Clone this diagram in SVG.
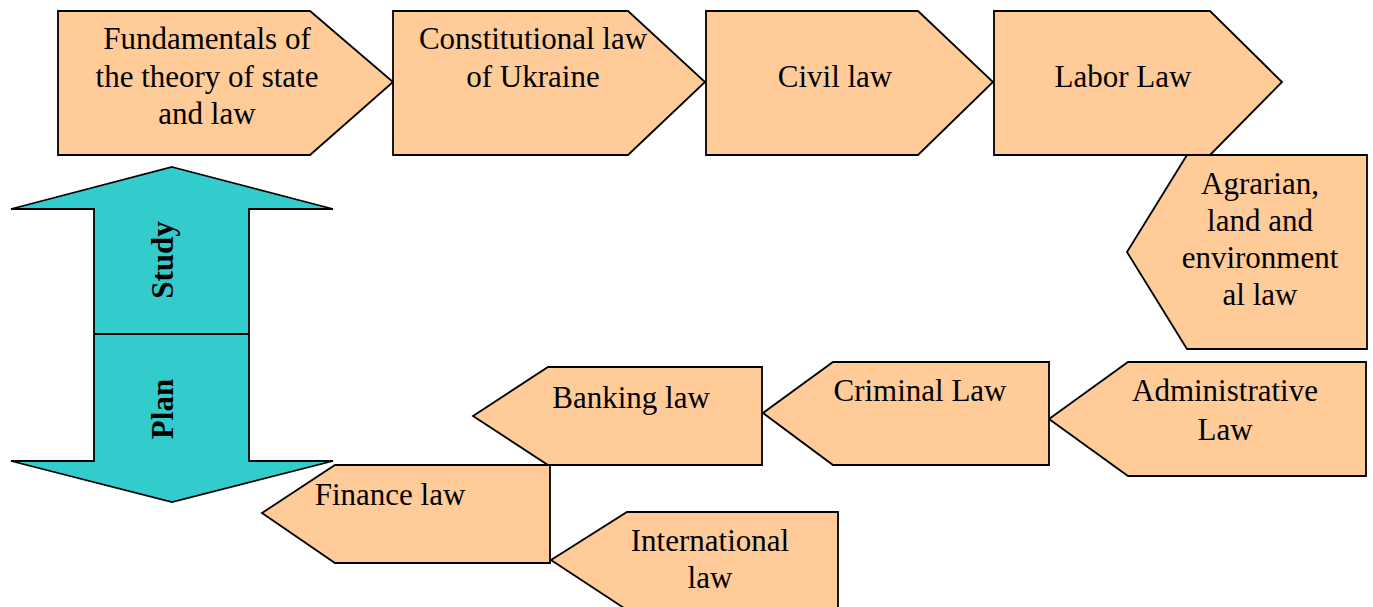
<svg xmlns="http://www.w3.org/2000/svg" width="1373" height="607" viewBox="0 0 1373 607">
<style>
.n{fill:#FFCC99;stroke:#000;stroke-width:1.8;stroke-linejoin:miter}
.a{fill:#33CCCC;stroke:#000;stroke-width:1.8}
.t{font-family:"Liberation Serif","Times New Roman",serif;font-size:31px;fill:#000;text-anchor:middle}
.b{font-weight:bold}
</style>
<rect width="1373" height="607" fill="#fff"/>
<g id="studyplan">
<polygon class="a" points="172,167 333,209 249,209 249,461 333,461 172,502 11,461 94,461 94,209 11,209"/>
<line x1="94" y1="334" x2="249" y2="334" stroke="#000" stroke-width="1.8"/>
<text class="t b" transform="translate(173,260) rotate(-90)">Study</text>
<text class="t b" transform="translate(173,409) rotate(-90)">Plan</text>
</g>
<g id="connectors"></g>
<g id="n1">
<polygon class="n" points="58,11 310,11 393,82 310,155 58,155"/>
<text class="t" x="207" y="49">Fundamentals of</text>
<text class="t" x="207" y="87">the theory of state</text>
<text class="t" x="207" y="124">and law</text>
</g>
<g id="n2">
<polygon class="n" points="393,11 628,11 705,82 628,155 393,155"/>
<text class="t" x="533" y="49">Constitutional law</text>
<text class="t" x="533" y="87">of Ukraine</text>
</g>
<g id="n3">
<polygon class="n" points="706,11 918,11 993,82 918,155 706,155"/>
<text class="t" x="835" y="87">Civil law</text>
</g>
<g id="n4">
<polygon class="n" points="994,11 1210,11 1282,82 1210,155 994,155"/>
<text class="t" x="1123" y="87">Labor Law</text>
</g>
<g id="n5">
<polygon class="n" points="1187,155 1367,155 1367,349 1187,349 1127,252"/>
<text class="t" x="1260" y="194">Agrarian,</text>
<text class="t" x="1260" y="231">land and</text>
<text class="t" x="1260" y="268">environment</text>
<text class="t" x="1260" y="305">al law</text>
</g>
<g id="n6">
<polygon class="n" points="1128,362 1366,362 1366,476 1128,476 1049,419"/>
<text class="t" x="1225" y="401">Administrative</text>
<text class="t" x="1225" y="440">Law</text>
</g>
<g id="n7">
<polygon class="n" points="833,362 1049,362 1049,465 833,465 763,413"/>
<text class="t" x="920" y="401">Criminal Law</text>
</g>
<g id="n8">
<polygon class="n" points="548,367 762,367 762,465 548,465 473,416"/>
<text class="t" x="631" y="408">Banking law</text>
</g>
<g id="n9">
<polygon class="n" points="335,465 550,465 550,563 335,563 262,513"/>
<text class="t" x="390" y="505">Finance law</text>
</g>
<g id="n10">
<polygon class="n" points="627,512 838,512 838,610 627,610 551,560"/>
<text class="t" x="710" y="551">International</text>
<text class="t" x="710" y="588">law</text>
</g>
</svg>
